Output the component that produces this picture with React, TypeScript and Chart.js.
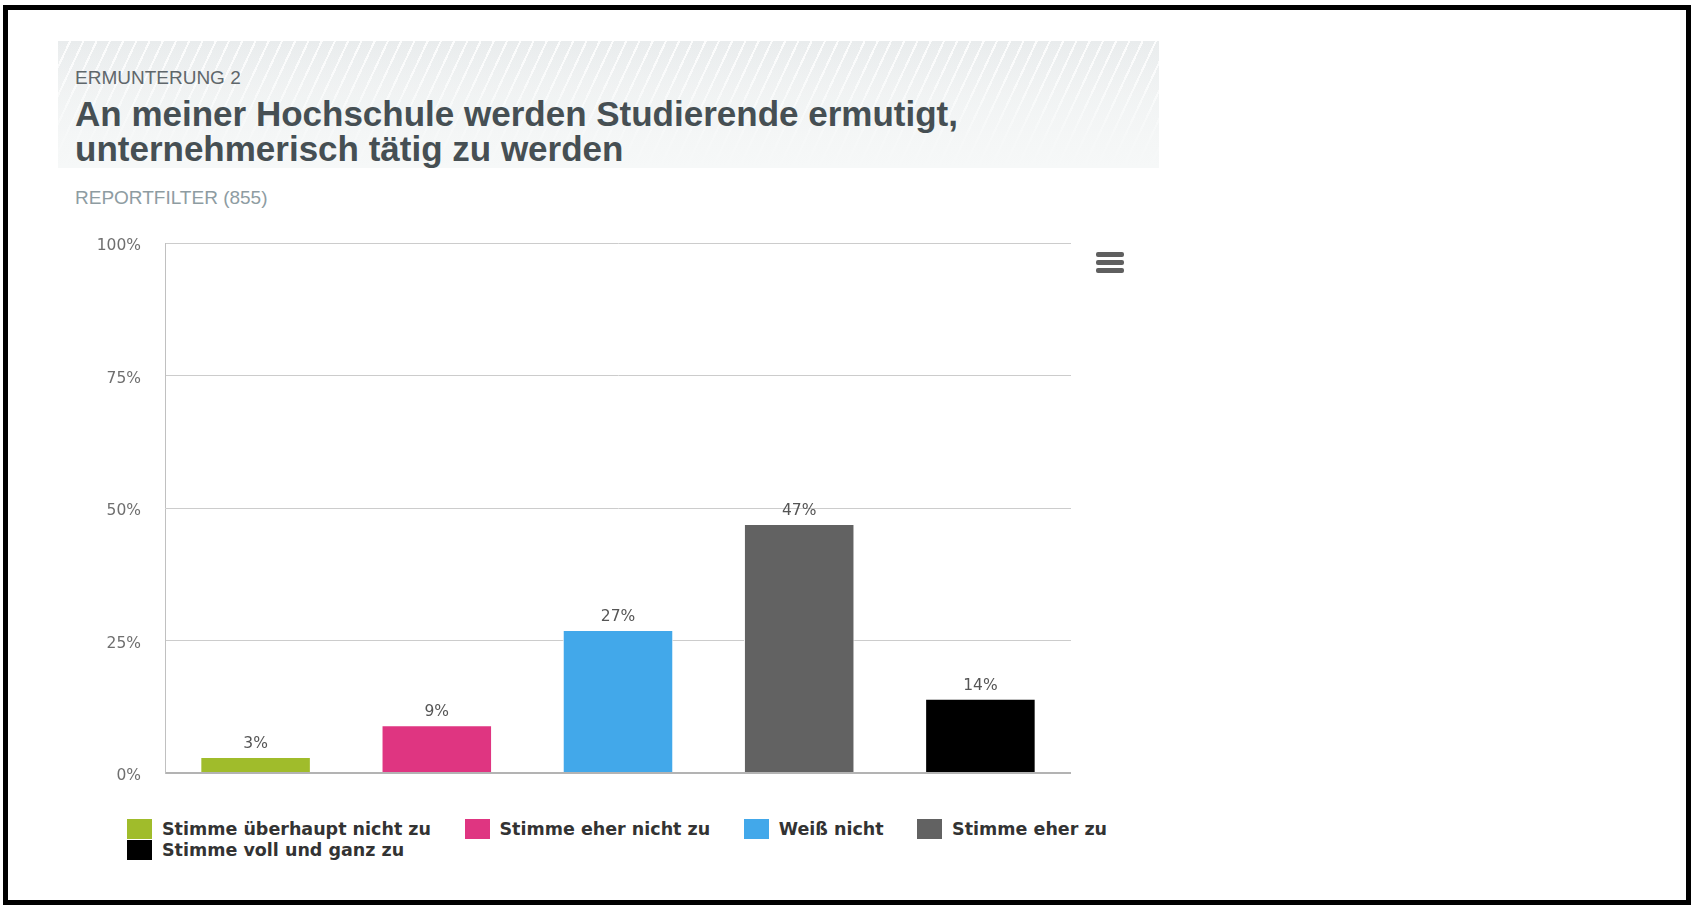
import React, { useEffect, useRef } from "react";
import { Chart, registerables } from "chart.js";

Chart.register(...registerables);

const categories = [
  "Stimme überhaupt nicht zu",
  "Stimme eher nicht zu",
  "Weiß nicht",
  "Stimme eher zu",
  "Stimme voll und ganz zu",
];
const values = [3, 9, 27, 47, 14];
const colors = ["#a0bc2b", "#df3581", "#42a8ea", "#626262", "#000000"];
const yTicks = [0, 25, 50, 75, 100];

const kicker = "ERMUNTERUNG 2";
const titleLines = [
  "An meiner Hochschule werden Studierende ermutigt,",
  "unternehmerisch tätig zu werden",
];
const subtitle = "REPORTFILTER (855)";

const valueLabelPlugin = {
  id: "valueLabels",
  afterDatasetsDraw(chart: any) {
    const ctx = chart.ctx;
    const meta = chart.getDatasetMeta(0);
    ctx.save();
    ctx.font = '15.5px "DejaVu Sans", sans-serif';
    ctx.fillStyle = "#555555";
    ctx.textAlign = "center";
    ctx.textBaseline = "middle";
    meta.data.forEach((el: any, i: number) => {
      const p = el.getProps(["x", "y"], true);
      ctx.fillText(values[i] + "%", p.x, p.y - 13);
    });
    ctx.restore();
  },
};

export default function App() {
  const canvasRef = useRef<HTMLCanvasElement | null>(null);

  useEffect(() => {
    if (!canvasRef.current) return;
    const chart = new Chart(canvasRef.current, {
      type: "bar",
      data: {
        labels: categories,
        datasets: [
          {
            data: values,
            backgroundColor: colors,
            borderColor: "#ffffff",
            borderWidth: 1,
            borderSkipped: "bottom",
            barPercentage: 0.61,
            categoryPercentage: 1,
          },
        ],
      },
      options: {
        animation: false,
        responsive: false,
        devicePixelRatio: 1,
        layout: { padding: { left: 0, right: 89, top: 28, bottom: 22 } },
        plugins: {
          legend: { display: false },
          tooltip: { enabled: false },
          title: { display: false },
        },
        scales: {
          x: {
            grid: { display: false, drawTicks: false },
            border: { display: false },
            ticks: { display: false },
            afterFit: (scale: any) => {
              scale.height = 0;
              scale.paddingLeft = 0;
              scale.paddingRight = 0;
            },
          },
          y: {
            min: 0,
            max: 100,
            afterBuildTicks: (scale: any) => {
              scale.ticks = yTicks.map((v) => ({ value: v }));
            },
            afterFit: (scale: any) => {
              scale.width = 105;
              scale.paddingTop = 0;
              scale.paddingBottom = 0;
            },
            grid: {
              drawTicks: false,
              color: (c: any) => (c.tick && c.tick.value === 0 ? "#b3b3b3" : "#cccccc"),
              lineWidth: (c: any) => (c.tick && c.tick.value === 0 ? 2 : 1),
            },
            border: { display: true, color: "#c0c0c0", width: 1 },
            ticks: {
              padding: 24,
              labelOffset: 3,
              color: "#6f6f6f",
              font: { family: '"DejaVu Sans", sans-serif', size: 15.5 },
              callback: (v: any) => v + "%",
            },
          },
        },
      },
      plugins: [valueLabelPlugin],
    });
    return () => chart.destroy();
  }, []);

  const headerFont = '"Liberation Sans", Arial, Helvetica, sans-serif';

  return (
    <div
      style={{
        position: "fixed",
        left: 0,
        top: 0,
        width: 1691,
        height: 909,
        background: "#ffffff",
        overflow: "hidden",
      }}
    >
      <div
        style={{
          position: "absolute",
          left: 3,
          top: 5,
          width: 1688,
          height: 900,
          border: "5px solid #000",
          boxSizing: "border-box",
        }}
      />
      <div
        style={{
          position: "absolute",
          left: 58,
          top: 41,
          width: 1101,
          height: 127,
          background:
            "linear-gradient(to bottom, rgba(245,247,247,0) 0%, rgba(245,247,247,0.85) 75%, rgba(246,248,248,1) 100%), repeating-linear-gradient(115deg, rgba(255,255,255,0) 0px, rgba(255,255,255,0) 10px, rgba(255,255,255,0.85) 10px, rgba(255,255,255,0.85) 12px), linear-gradient(to bottom, #e9eced, #f2f4f4)",
        }}
      />
      <div
        style={{
          position: "absolute",
          left: 75,
          top: 68,
          fontFamily: headerFont,
          fontSize: 19,
          lineHeight: "20px",
          color: "#5f676b",
          whiteSpace: "nowrap",
        }}
      >
        {kicker}
      </div>
      <div
        style={{
          position: "absolute",
          left: 75,
          top: 96,
          fontFamily: headerFont,
          fontSize: 35,
          fontWeight: "bold",
          lineHeight: "35px",
          color: "#464f53",
          whiteSpace: "nowrap",
        }}
      >
        {titleLines.map((l, i) => (
          <div key={i}>{l}</div>
        ))}
      </div>
      <div
        style={{
          position: "absolute",
          left: 75,
          top: 188,
          fontFamily: headerFont,
          fontSize: 19,
          lineHeight: "20px",
          color: "#8e9ca2",
          whiteSpace: "nowrap",
        }}
      >
        {subtitle}
      </div>
      <canvas
        ref={canvasRef}
        width={1100}
        height={580}
        style={{ position: "absolute", left: 60, top: 215, width: 1100, height: 580 }}
      />
      {[252, 260, 268].map((t, i) => (
        <div
          key={i}
          style={{
            position: "absolute",
            left: 1096,
            top: t,
            width: 28,
            height: 4.5,
            borderRadius: 2,
            background: "#5f5f5f",
          }}
        />
      ))}
      <div
        style={{
          position: "absolute",
          left: 127,
          top: 819,
          width: 1100,
          display: "flex",
          flexWrap: "wrap",
          rowGap: 1,
          fontFamily: '"DejaVu Sans", sans-serif',
          fontWeight: "bold",
          fontSize: 17.5,
          color: "#333333",
        }}
      >
        {categories.map((c, i) => (
          <div
            key={i}
            style={{
              display: "flex",
              alignItems: "center",
              height: 20,
              marginRight: 33.5,
              whiteSpace: "nowrap",
            }}
          >
            <div style={{ width: 25, height: 20, background: colors[i], marginRight: 10 }} />
            <span style={{ lineHeight: "20px" }}>{c}</span>
          </div>
        ))}
      </div>
    </div>
  );
}
